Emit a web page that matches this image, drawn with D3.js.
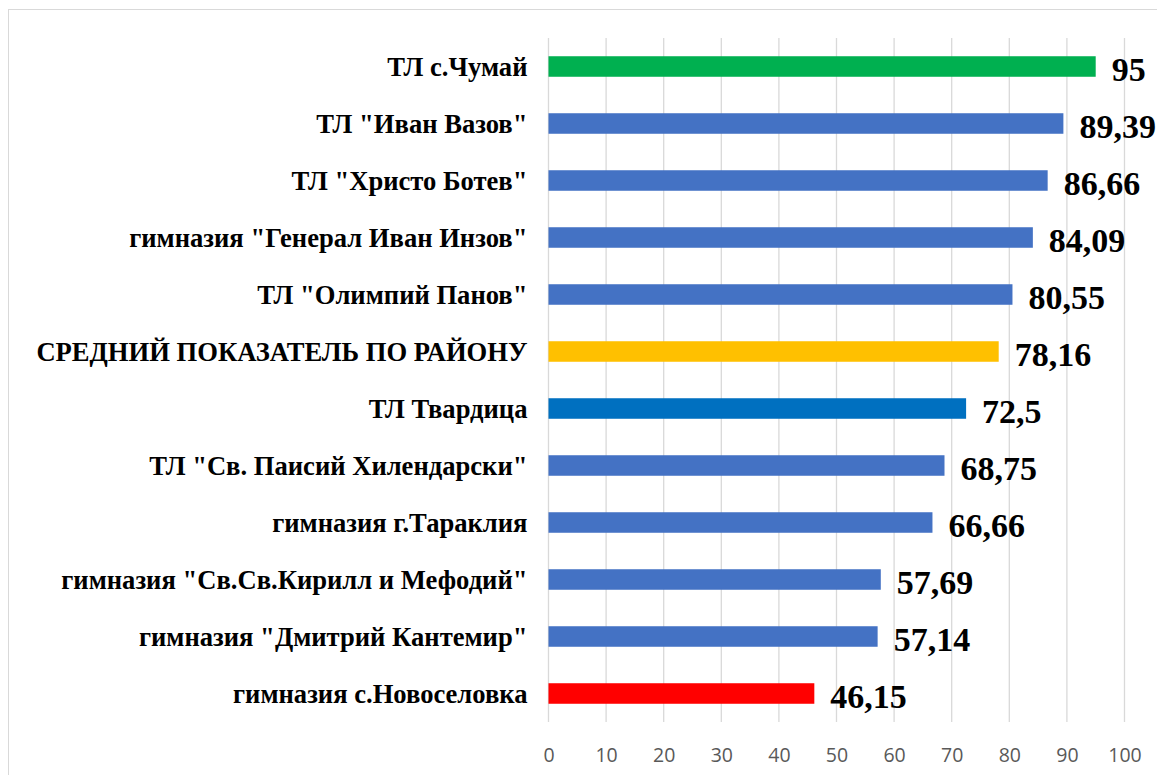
<!DOCTYPE html>
<html>
<head>
<meta charset="utf-8">
<script src="https://cdn.jsdelivr.net/npm/d3@7"></script>
<style>
  body { margin: 0; background: #fff; }
  .cat { font-family: "Liberation Serif", "Times New Roman", serif; font-weight: bold; font-size: 26.6px; fill: #000; }
  .val { font-family: "Liberation Serif", "Times New Roman", serif; font-weight: bold; font-size: 34px; fill: #000; }
  .tick text { font-family: "Open Sans", "Liberation Sans", sans-serif; font-size: 19.5px; fill: #595959; }
</style>
</head>
<body>
<script>
// data, top to bottom
const schools = [
  'ТЛ с.Чумай',
  'ТЛ "Иван Вазов"',
  'ТЛ "Христо Ботев"',
  'гимназия "Генерал Иван Инзов"',
  'ТЛ "Олимпий Панов"',
  'СРЕДНИЙ ПОКАЗАТЕЛЬ ПО РАЙОНУ',
  'ТЛ Твардица',
  'ТЛ "Св. Паисий Хилендарски"',
  'гимназия г.Тараклия',
  'гимназия "Св.Св.Кирилл и Мефодий"',
  'гимназия "Дмитрий Кантемир"',
  'гимназия с.Новоселовка'
];
const scores = [95, 89.39, 86.66, 84.09, 80.55, 78.16, 72.5, 68.75, 66.66, 57.69, 57.14, 46.15];
const barColors = ['#00B050', '#4472C4', '#4472C4', '#4472C4', '#4472C4', '#FFC000',
                   '#0070C0', '#4472C4', '#4472C4', '#4472C4', '#4472C4', '#FF0000'];
const xTicks = [0, 10, 20, 30, 40, 50, 60, 70, 80, 90, 100];

const width = 1157, height = 775;
const plotLeft = 548.5, plotRight = 1124.5, plotTop = 38, plotBottom = 722;

const svg = d3.select('body').append('svg')
  .attr('width', width)
  .attr('height', height);

// chart border
svg.append('rect')
  .attr('x', 8.5).attr('y', 9.5)
  .attr('width', 1160).attr('height', 780)
  .attr('fill', 'none')
  .attr('stroke', '#d9d9d9');

const x = d3.scaleLinear().domain([0, 100]).range([plotLeft, plotRight]);
const y = d3.scaleBand().domain(schools).range([plotTop, plotBottom]).paddingInner(0.64).paddingOuter(0.32);

// gridlines
svg.append('g')
  .selectAll('line')
  .data(xTicks)
  .enter().append('line')
  .attr('x1', d => x(d)).attr('x2', d => x(d))
  .attr('y1', plotTop).attr('y2', plotBottom)
  .attr('stroke', '#d9d9d9')
  .attr('stroke-width', 1.3);

// x axis labels
const xAxis = svg.append('g')
  .attr('transform', 'translate(0,' + (plotBottom + 23) + ')')
  .call(d3.axisBottom(x).tickValues(xTicks).tickSize(0).tickFormat(d3.format('d')));
xAxis.select('.domain').remove();

// bars
svg.append('g')
  .selectAll('rect')
  .data(scores)
  .enter().append('rect')
  .attr('x', x(0))
  .attr('y', (d, i) => y(schools[i]))
  .attr('width', d => x(d) - x(0))
  .attr('height', y.bandwidth())
  .attr('fill', (d, i) => barColors[i]);

// category labels
svg.append('g')
  .selectAll('text')
  .data(schools)
  .enter().append('text')
  .attr('class', 'cat')
  .attr('x', plotLeft - 21)
  .attr('y', d => y(d) + y.bandwidth() / 2)
  .attr('dy', '0.35em')
  .attr('text-anchor', 'end')
  .text(d => d);

// value labels
svg.append('g')
  .selectAll('text')
  .data(scores)
  .enter().append('text')
  .attr('class', 'val')
  .attr('x', d => x(d) + 16)
  .attr('y', (d, i) => y(schools[i]) + y.bandwidth() / 2 + 3)
  .attr('dy', '0.35em')
  .text(d => String(d).replace('.', ','));
</script>
</body>
</html>
